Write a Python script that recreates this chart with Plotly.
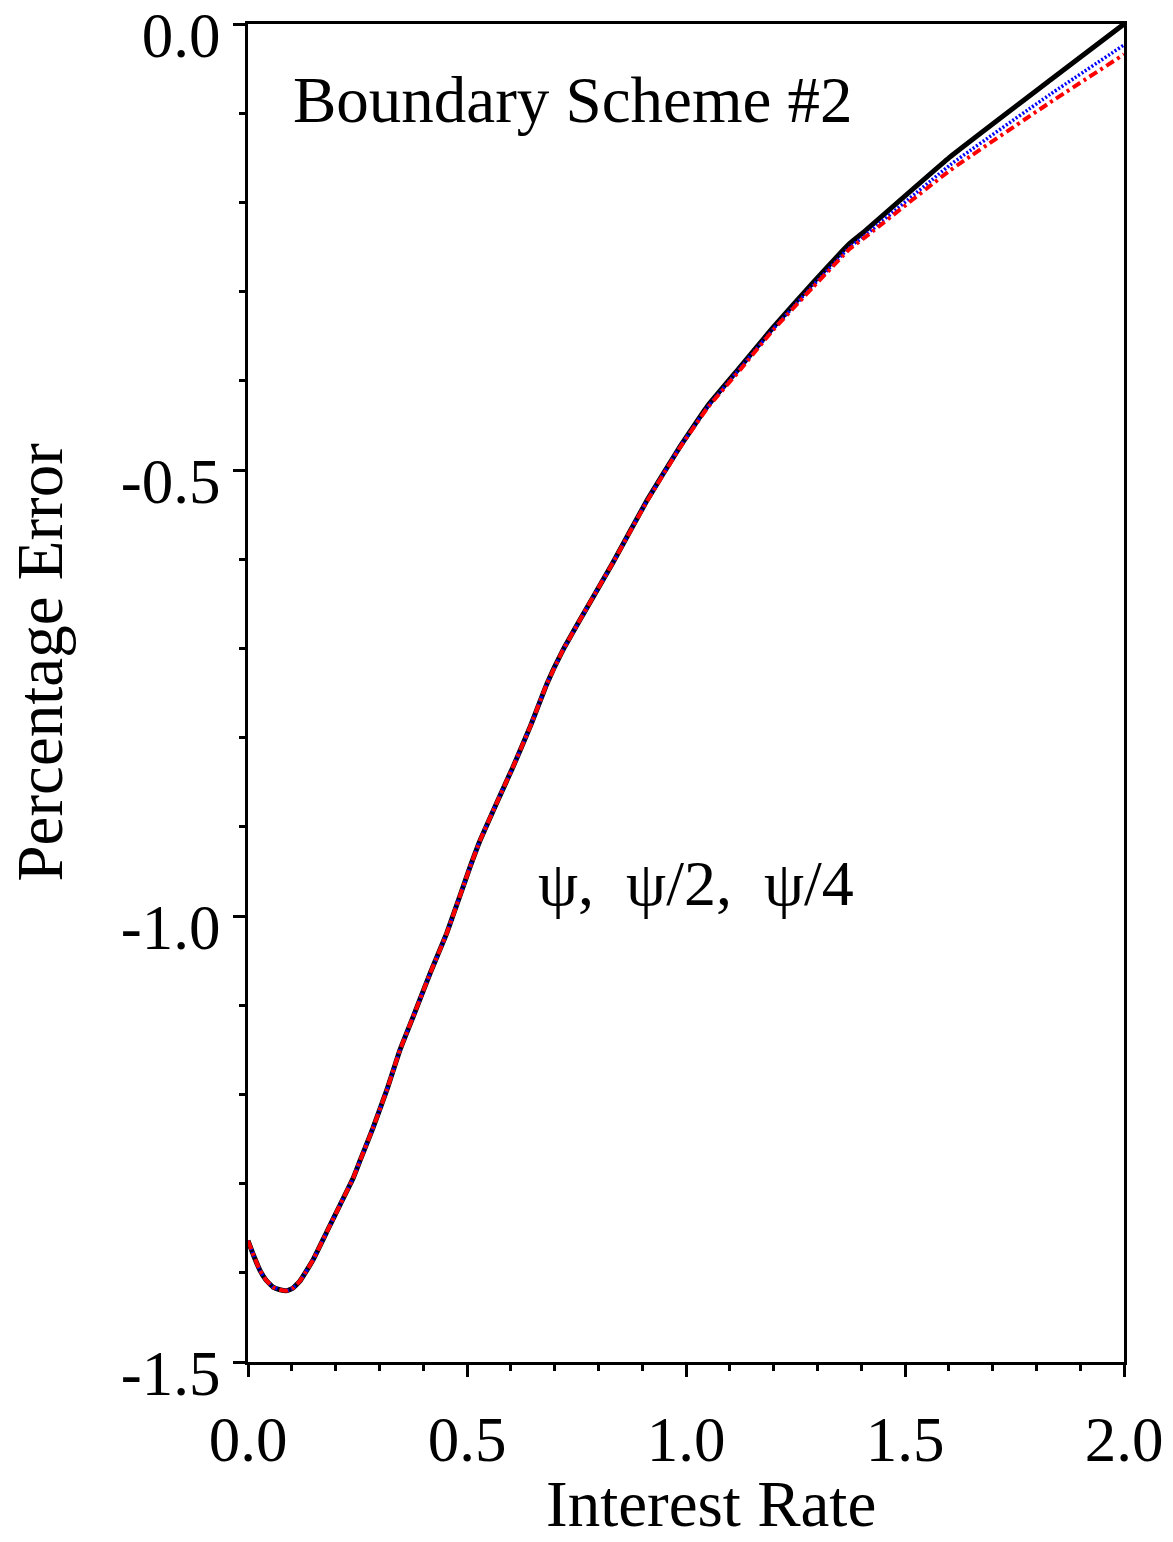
import plotly.graph_objects as go

# Interest rate grid
rate = [0.000, 0.014, 0.027, 0.041, 0.057, 0.073, 0.089, 0.103, 0.119, 0.132,
        0.148, 0.180, 0.210, 0.240, 0.256, 0.285,
        0.317, 0.347, 0.377, 0.416, 0.454, 0.507, 0.530, 0.568, 0.605, 0.644,
        0.683, 0.719, 0.758, 0.833, 0.911, 0.986, 1.048, 1.123, 1.199, 1.290,
        1.374, 1.404, 1.603, 1.831, 2.000]

# psi (black solid)
err_psi = [-1.364, -1.382, -1.397, -1.408, -1.416, -1.419, -1.420, -1.417, -1.409, -1.399,
           -1.386, -1.354, -1.324, -1.294, -1.274, -1.238,
           -1.195, -1.150, -1.113, -1.064, -1.019, -0.945, -0.915, -0.873, -0.833, -0.788,
           -0.739, -0.702, -0.668, -0.604, -0.534, -0.474, -0.429, -0.385, -0.340, -0.290,
           -0.246, -0.234, -0.149, -0.063, 0.000]

# psi/2 (blue dotted)
err_psi2 = [-1.364, -1.382, -1.397, -1.408, -1.416, -1.419, -1.420, -1.417, -1.409, -1.399,
            -1.386, -1.354, -1.324, -1.294, -1.274, -1.238,
            -1.195, -1.150, -1.113, -1.064, -1.019, -0.945, -0.915, -0.873, -0.833, -0.788,
            -0.739, -0.702, -0.668, -0.604, -0.534, -0.474, -0.430, -0.386, -0.342, -0.293,
            -0.250, -0.239, -0.158, -0.079, -0.0235]

# psi/4 (red dash-dot)
err_psi4 = [-1.364, -1.382, -1.397, -1.408, -1.416, -1.419, -1.420, -1.417, -1.409, -1.399,
            -1.386, -1.354, -1.324, -1.294, -1.274, -1.238,
            -1.195, -1.150, -1.113, -1.064, -1.019, -0.945, -0.915, -0.873, -0.833, -0.788,
            -0.739, -0.702, -0.668, -0.604, -0.535, -0.475, -0.431, -0.388, -0.343, -0.295,
            -0.252, -0.241, -0.164, -0.088, -0.034]

x_tickvals = [0.0, 0.5, 1.0, 1.5, 2.0]
x_ticktext = ["0.0", "0.5", "1.0", "1.5", "2.0"]
y_tickvals = [0.0, -0.5, -1.0, -1.5]
y_ticktext = ["0.0", "-0.5", "-1.0", "-1.5"]
x_minor = [round(0.1 * i, 1) for i in range(21)]
y_minor = [round(-0.1 * i, 1) for i in range(16)]

FONT = "Liberation Serif, Times New Roman, serif"

fig = go.Figure()
fig.add_trace(go.Scatter(x=rate, y=err_psi, mode="lines",
                         line=dict(color="black", width=5, shape="spline", smoothing=0.3),
                         name="ψ"))
fig.add_trace(go.Scatter(x=rate, y=err_psi2, mode="lines",
                         line=dict(color="#0000ff", width=3.5, dash="2px,2px",
                                   shape="spline", smoothing=0.3), name="ψ/2"))
fig.add_trace(go.Scatter(x=rate, y=err_psi4, mode="lines",
                         line=dict(color="#ff0000", width=4, dash="9px,4px,3px,4px",
                                   shape="spline", smoothing=0.3), name="ψ/4"))

axis_common = dict(
    showgrid=False, zeroline=False, showline=True, linecolor="black", linewidth=3,
    mirror=True, ticks="outside", ticklen=12, tickwidth=2.5, tickcolor="black",
    tickfont=dict(family=FONT, size=63, color="black"),
    ticklabeloverflow="allow", automargin=False,
)

fig.update_xaxes(range=[0, 2], tickmode="array", tickvals=x_tickvals, ticktext=x_ticktext,
                 ticklabelstandoff=8,
                 minor=dict(tickmode="array", tickvals=x_minor, ticks="outside",
                            ticklen=6, tickwidth=2.5, tickcolor="black"),
                 **axis_common)
fig.update_yaxes(range=[-1.5, 0], tickmode="array", tickvals=y_tickvals, ticktext=y_ticktext,
                 ticklabelshift=11,
                 minor=dict(tickmode="array", tickvals=y_minor, ticks="outside",
                            ticklen=6, tickwidth=2.5, tickcolor="black"),
                 **axis_common)

fig.add_annotation(text="Boundary Scheme #2", x=0.743, y=-0.085, xref="x", yref="y",
                   showarrow=False, font=dict(family=FONT, size=65, color="black"))
fig.add_annotation(text="ψ,\u00a0\u00a0ψ/2,\u00a0\u00a0ψ/4", x=1.023, y=-0.963, xref="x", yref="y",
                   showarrow=False, font=dict(family=FONT, size=64, color="black"))
fig.add_annotation(text="Interest Rate", x=0.529, y=-0.106, xref="paper", yref="paper",
                   xanchor="center", yanchor="middle",
                   showarrow=False, font=dict(family=FONT, size=65, color="black"))
fig.add_annotation(text="Percentage Error", x=-0.237, y=0.523, xref="paper", yref="paper",
                   xanchor="center", yanchor="middle", textangle=-90,
                   showarrow=False, font=dict(family=FONT, size=65, color="black"))

fig.update_layout(
    width=1173, height=1542,
    margin=dict(l=248, r=49, t=24, b=180, autoexpand=False),
    paper_bgcolor="white", plot_bgcolor="white",
    showlegend=False,
)

fig.write_html("out.html", config={"displayModeBar": False},
               post_script="document.body.style.margin='0px';")
